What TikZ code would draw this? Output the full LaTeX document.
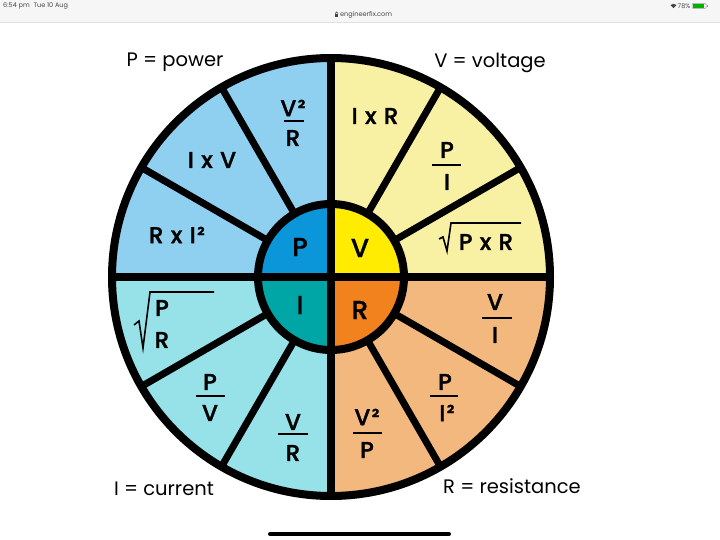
\documentclass[tikz,border=0pt]{standalone}
\usepackage{fontspec}
\setmainfont{Poppins}
\newfontfamily\medfont{Poppins Medium}[FakeBold=1.3,LetterSpace=6]
\definecolor{Pl}{RGB}{143,208,240}
\definecolor{Pd}{RGB}{12,150,218}
\definecolor{Vl}{RGB}{248,241,163}
\definecolor{Vd}{RGB}{255,236,0}
\definecolor{Il}{RGB}{150,226,232}
\definecolor{Id}{RGB}{0,166,166}
\definecolor{Rl}{RGB}{243,184,125}
\definecolor{Rd}{RGB}{241,130,30}
\definecolor{barbg}{RGB}{246,246,246}
\definecolor{bartx}{RGB}{70,70,70}
\begin{document}
\begin{tikzpicture}[x=1pt,y=1pt,
  ring/.style={line width=8pt,draw=black},
  spoke/.style={line width=7pt,draw=black},
  fbar/.style={line width=2.6pt,draw=black},
  radical/.style={line width=1.6pt,draw=black,line join=miter},
  formula/.style={inner sep=0pt,font=\medfont\fontsize{23}{23}\selectfont,text=black},
  inner/.style={inner sep=0pt,font=\medfont\fontsize{26}{26}\selectfont,text=black},
  legend/.style={inner sep=0pt,anchor=base,font=\fontsize{19.5}{19.5}\selectfont,text=black},
  status/.style={inner sep=0pt,font=\fontsize{6.5}{6.5}\selectfont,text=bartx}]
\useasboundingbox (0,0) rectangle (720,539);
\fill[white] (0,0) rectangle (720,539);
% status bar
\fill[barbg] (0,517) rectangle (720,539);
\draw[line width=0.6pt,draw=black!12] (0,517) -- (720,517);
\node[status,anchor=west] (time) at (3,533) {6:54 pm\hspace{4pt}Tue 10 Aug};
\node[status,anchor=west] (url) at (340,524.5) {engineerfix.com};
% lock icon
\fill[bartx] (335,522.3) rectangle (338.4,525.2);
\draw[bartx,line width=0.6pt] (335.6,525.2) -- (335.6,526) arc[start angle=180,end angle=0,radius=1.1] -- (337.8,525.2);
\node[status,anchor=east] (batt) at (690.5,533) {78\%};
% wifi icon
\coordinate (wifi) at (673.5,530.8);
\fill[bartx] (wifi) -- ++(45:4.4) arc[start angle=45,end angle=135,radius=4.4] -- cycle;
% battery
\draw[line width=0.5pt,draw=black!40,rounded corners=1pt] (692,530.5) rectangle (706,535.5);
\fill[green!70!black] (693,531.3) rectangle (703.5,534.7);
\fill[black!40] (706.5,532) rectangle (707.6,534);
% wheel
\coordinate (C) at (331,262);
\begin{scope}[shift={(C)}]
  \fill[Vl] (0,0) -- (0,219) arc[start angle=90,end angle=0,radius=219] -- cycle;
  \fill[Pl] (0,0) -- (0,219) arc[start angle=90,end angle=180,radius=219] -- cycle;
  \fill[Il] (0,0) -- (-219,0) arc[start angle=180,end angle=270,radius=219] -- cycle;
  \fill[Rl] (0,0) -- (0,-219) arc[start angle=270,end angle=360,radius=219] -- cycle;
  \fill[Vd] (0,0) -- (0,73) arc[start angle=90,end angle=0,radius=73] -- cycle;
  \fill[Pd] (0,0) -- (0,73) arc[start angle=90,end angle=180,radius=73] -- cycle;
  \fill[Id] (0,0) -- (-73,0) arc[start angle=180,end angle=270,radius=73] -- cycle;
  \fill[Rd] (0,0) -- (0,-73) arc[start angle=270,end angle=360,radius=73] -- cycle;
  \foreach \a in {30,60,120,150,210,240,300,330}
    \draw[spoke] (\a:73) -- (\a:219);
  \draw[ring] (-219,0) -- (219,0);
  \draw[ring] (0,-219) -- (0,219);
  \draw[ring] (0,0) circle[radius=73];
  \draw[ring] (0,0) circle[radius=219];
\end{scope}
% inner letters
\node[inner] (iP) at (300,292) {P};
\node[inner] (iV) at (360,291) {V};
\node[inner] (iI) at (300,234) {I};
\node[inner] (iR) at (360,229) {R};
% P quadrant
\node[formula] (p1n) at (293,431) {V²};
\node[formula] (p1d) at (293,401) {R};
\draw[fbar] (284,418) -- (304,418);
\node[formula] (p2) at (212,379) {I x V};
\node[formula] (p3) at (177,304) {R x I²};
% V quadrant
\node[formula] (v1) at (375,423) {I x R};
\node[formula] (v2n) at (447,389) {P};
\node[formula] (v2d) at (447,357) {I};
\draw[fbar] (432,374) -- (461,374);
\node[formula] (v3) at (486,297) {P x R};
\draw[radical] (439,300) -- (443,302) -- (447,288) -- (451,316) -- (521,316);
% I quadrant
\node[formula] (i1n) at (162,231) {P};
\node[formula] (i1d) at (162,199) {R};
\draw[radical] (134,214) -- (139,218) -- (143,191) -- (150,247) -- (214,247);
\node[formula] (i2n) at (210,157) {P};
\node[formula] (i2d) at (210,126) {V};
\draw[fbar] (196,143) -- (225,143);
\node[formula] (i3n) at (293,117) {V};
\node[formula] (i3d) at (293,86) {R};
\draw[fbar] (278,105) -- (308,105);
% R quadrant
\node[formula] (r1n) at (495,237) {V};
\node[formula] (r1d) at (495,204) {I};
\draw[fbar] (482,221) -- (512,221);
\node[formula] (r2n) at (445,157) {P};
\node[formula] (r2d) at (447,126) {I²};
\draw[fbar] (430,143) -- (458,143);
\node[formula] (r3n) at (367,122) {V²};
\node[formula] (r3d) at (367,89) {P};
\draw[fbar] (353,106) -- (382,106);
% legends
\node[legend] (lP) at (175,472) {P = power};
\node[legend] (lV) at (490,471) {V = voltage};
\node[legend] (lI) at (164,44) {I = current};
\node[legend] (lR) at (512,46) {R = resistance};
% home indicator
\draw[line width=4pt,line cap=round] (270,5) -- (449,5);
\end{tikzpicture}
\end{document}
